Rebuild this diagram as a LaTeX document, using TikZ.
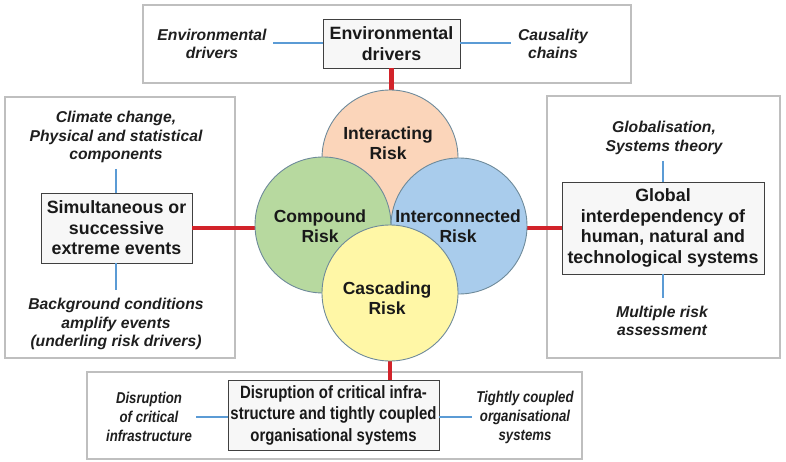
\documentclass[tikz,border=0pt]{standalone}
\usepackage{fontspec}
\setmainfont{Liberation Sans}
\newfontfamily\narrowfont[FakeStretch=0.84]{Liberation Sans}
\usetikzlibrary{shadings}
\definecolor{redline}{HTML}{D2232A}
\definecolor{blueline}{HTML}{5B9BD5}
\definecolor{outergray}{HTML}{BFBFBF}
\definecolor{innerdark}{HTML}{404040}
\definecolor{circedge}{HTML}{6E8A9A}
\definecolor{oin}{HTML}{FBD5BA}\definecolor{oout}{HTML}{F0B38C}
\definecolor{gin}{HTML}{B7D99F}\definecolor{gout}{HTML}{8CBD6C}
\definecolor{bin}{HTML}{A9CCEC}\definecolor{bout}{HTML}{7CAEDC}
\definecolor{yin}{HTML}{FFF7A6}\definecolor{yout}{HTML}{EDE07A}
\pgfdeclareradialshading{oshade}{\pgfpoint{0bp}{6bp}}{color(0bp)=(oin); color(34bp)=(oin); color(50bp)=(oout)}
\pgfdeclareradialshading{gshade}{\pgfpoint{0bp}{6bp}}{color(0bp)=(gin); color(34bp)=(gin); color(50bp)=(gout)}
\pgfdeclareradialshading{bshade}{\pgfpoint{0bp}{6bp}}{color(0bp)=(bin); color(34bp)=(bin); color(50bp)=(bout)}
\pgfdeclareradialshading{yshade}{\pgfpoint{0bp}{6bp}}{color(0bp)=(yin); color(34bp)=(yin); color(50bp)=(yout)}
\tikzset{
  outerbox/.style={draw=outergray, line width=1.8pt},
  innerbox/.style={draw=innerdark, line width=0.9pt, fill=white!97!black, inner sep=0pt},
  boxtext/.style={font=\fontsize{17.8}{20.5}\selectfont\bfseries, align=center, text=black!90},
  labeltext/.style={font=\fontsize{15.7}{18.5}\selectfont\bfseries\itshape, align=center, text=black!88},
  circtext/.style={font=\fontsize{17.5}{20}\selectfont\bfseries, align=center, text=black!90},
  riskcircle/.style={circle, minimum size=136pt, inner sep=0pt, draw=circedge, line width=0.9pt},
  redconn/.style={draw=redline, line width=4.5pt},
  blueconn/.style={draw=blueline, line width=1.5pt},
}
\begin{document}
\begin{tikzpicture}[x=1pt,y=-1pt]
\useasboundingbox (0,0) rectangle (786,462);
% outer frames
\draw[outerbox] (143,5) rectangle (631,83);
\draw[outerbox] (5,97) rectangle (235,358);
\draw[outerbox] (547,96) rectangle (780,358);
\draw[outerbox] (87,372) rectangle (582,459);

% inner boxes
\node[innerbox, minimum width=137pt, minimum height=49pt, boxtext] (tbox) at (391.5,43.5) {Environmental\\drivers};
\node[innerbox, minimum width=151pt, minimum height=70pt, boxtext] (lbox) at (116.5,228) {Simultaneous or\\successive\\extreme events};
\node[innerbox, minimum width=202pt, minimum height=92pt, boxtext] (rbox) at (663,228) {Global\\interdependency of\\human, natural and\\technological systems};
\node[innerbox, minimum width=211pt, minimum height=70pt, boxtext, font=\fontsize{17.8}{21.5}\selectfont\narrowfont\bfseries] (bbox) at (333.5,415) {Disruption of critical infra-\\structure and tightly coupled\\organisational systems};

% circles
\coordinate (co) at (390,158);
\coordinate (cg) at (323,225);
\coordinate (cb) at (459,226);
\coordinate (cy) at (390,293);

% red connectors (behind circles)
\node[riskcircle, draw=none] (ctop) at (co) {};
\node[riskcircle, draw=none] (cleft) at (cg) {};
\node[riskcircle, draw=none] (cright) at (cb) {};
\node[riskcircle, draw=none] (cbot) at (cy) {};
\draw[redconn] (tbox.south) -- (tbox.south |- ctop.north);
\draw[redconn] (lbox.east) -- (lbox.east -| cleft.west);
\draw[redconn] (rbox.west) -- (rbox.west -| cright.east);
\draw[redconn] (bbox.north -| cbot.south) -- (cbot.south);

\node[riskcircle, shading=oshade] at (co) {};
\node[riskcircle, shading=gshade] at (cg) {};
\node[riskcircle, shading=bshade] at (cb) {};
\node[riskcircle, shading=yshade] at (cy) {};

\node[circtext] (tinter) at (388,143) {Interacting\\Risk};
\node[circtext] (tcomp) at (320,226) {Compound\\Risk};
\node[circtext] (tconn) at (458,226) {Interconnected\\Risk};
\node[circtext] (tcasc) at (387,298) {Cascading\\Risk};

% labels top
\node[labeltext] (tl) at (212,44) {Environmental\\drivers};
\node[labeltext] (tr) at (553,44) {Causality\\chains};
\coordinate (tlend) at (273,43);
\coordinate (trend) at (511,43);
\draw[blueconn] (tlend) -- (tlend -| tbox.west);
\draw[blueconn] (tbox.east |- trend) -- (trend);

% labels left
\node[labeltext] (lt) at (116,137) {Climate change,\\Physical and statistical\\components};
\node[labeltext] (lb) at (116,324) {Background conditions\\amplify events\\(underling risk drivers)};
\coordinate (ltend) at (116,169);
\coordinate (lbend) at (116,290);
\draw[blueconn] (ltend) -- (ltend |- lbox.north);
\draw[blueconn] (lbox.south -| lbend) -- (lbend);

% labels right
\node[labeltext] (rt) at (664,138) {Globalisation,\\Systems theory};
\node[labeltext] (rb) at (662,321) {Multiple risk\\assessment};
\coordinate (rtend) at (663,161);
\coordinate (rbend) at (663,298);
\draw[blueconn] (rtend) -- (rtend |- rbox.north);
\draw[blueconn] (rbox.south -| rbend) -- (rbend);

% labels bottom
\node[labeltext, font=\fontsize{15.7}{19}\selectfont\narrowfont\bfseries\itshape] (bl) at (149,417) {Disruption\\of critical\\infrastructure};
\node[labeltext, font=\fontsize{15.7}{19}\selectfont\narrowfont\bfseries\itshape] (br) at (525,417) {Tightly coupled\\organisational\\systems};
\coordinate (blend) at (196,417);
\coordinate (brend) at (472,417);
\draw[blueconn] (blend) -- (blend -| bbox.west);
\draw[blueconn] (bbox.east |- brend) -- (brend);
\end{tikzpicture}
\end{document}
